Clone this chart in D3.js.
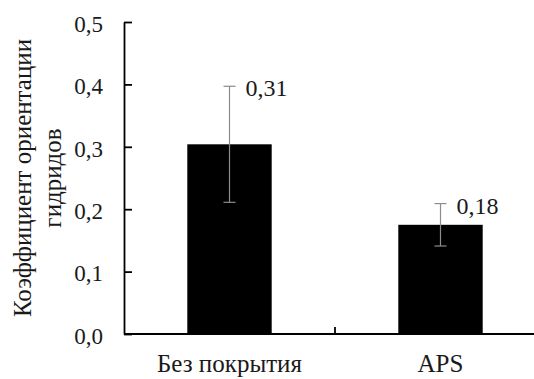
<!DOCTYPE html>
<html>
<head>
<meta charset="UTF-8" />
<title>Коэффициент ориентации гидридов</title>
<style>
  body { margin: 0; background: #fff; }
  .axis path, .axis line { stroke: #000; stroke-width: 1.8px; }
  .err { stroke: #8c8c8c; stroke-width: 1.2px; }
</style>
<script src="https://d3js.org/d3.v7.min.js"></script>
</head>
<body>
<script>
var categories = ["Без покрытия", "APS"];
var values = [0.304, 0.175];
var errors = [0.093, 0.034];
var valueLabels = ["0,31", "0,18"];
var yTicks = [0, 0.1, 0.2, 0.3, 0.4, 0.5];

var width = 534, height = 379;
var margin = {top: 22, right: -12, bottom: 45, left: 124};
var serif = "'Liberation Serif', 'Times New Roman', serif";

var svg = d3.select("body").append("svg")
    .attr("width", width)
    .attr("height", height)
    .attr("font-family", serif);

var x = d3.scaleBand()
    .domain(categories)
    .range([margin.left, width - margin.right])
    .paddingInner(0.6)
    .paddingOuter(0.3);

var y = d3.scaleLinear()
    .domain([0, 0.5])
    .range([height - margin.bottom, margin.top]);

var fmt = function(d) { return d3.format(".1f")(d).replace(".", ","); };

// y axis, ticks pointing inwards
var yAxis = svg.append("g")
    .attr("class", "axis")
    .attr("transform", "translate(" + margin.left + ",0)")
    .call(d3.axisRight(y).tickValues(yTicks).tickSize(8).tickSizeOuter(0).tickFormat(fmt))
    .attr("font-family", serif);
yAxis.selectAll("text")
    .attr("x", -21)
    .attr("dy", "0.4em")
    .attr("text-anchor", "end")
    .attr("fill", "#1a1a1a")
    .style("font-family", serif)
    .style("font-size", "23px");

// x axis: only a divider tick between categories
var step = x.step();
var xAxisG = svg.append("g").attr("class", "axis");
xAxisG.append("line")
    .attr("x1", margin.left).attr("x2", width)
    .attr("y1", y(0)).attr("y2", y(0));
xAxisG.append("line")
    .attr("x1", margin.left + step).attr("x2", margin.left + step)
    .attr("y1", y(0)).attr("y2", y(0) - 7);

svg.selectAll(".xlab")
    .data(categories)
    .enter().append("text")
    .attr("class", "xlab")
    .attr("x", function(d) { return x(d) + x.bandwidth() / 2; })
    .attr("y", 372)
    .attr("text-anchor", "middle")
    .attr("fill", "#1a1a1a")
    .style("font-family", serif)
    .style("font-size", "25px")
    .text(function(d) { return d; });

// bars
svg.selectAll(".bar")
    .data(values)
    .enter().append("rect")
    .attr("class", "bar")
    .attr("x", function(d, i) { return x(categories[i]); })
    .attr("width", x.bandwidth())
    .attr("y", function(d) { return y(d); })
    .attr("height", function(d) { return y(0) - y(d); })
    .attr("fill", "#000");

// error bars
var cx = function(d, i) { return x(categories[i]) + x.bandwidth() / 2; };
var eb = svg.selectAll(".eb")
    .data(values)
    .enter().append("g")
    .attr("class", "eb");
eb.append("line").attr("class", "err")
    .attr("x1", cx).attr("x2", cx)
    .attr("y1", function(d, i) { return y(d + errors[i]); })
    .attr("y2", function(d, i) { return y(d - errors[i]); });
[1, -1].forEach(function(s) {
  eb.append("line").attr("class", "err")
    .attr("x1", function(d, i) { return cx(d, i) - 6; })
    .attr("x2", function(d, i) { return cx(d, i) + 6; })
    .attr("y1", function(d, i) { return y(d + s * errors[i]); })
    .attr("y2", function(d, i) { return y(d + s * errors[i]); });
});

// value labels
svg.selectAll(".vlab")
    .data(values)
    .enter().append("text")
    .attr("class", "vlab")
    .attr("x", function(d, i) { return cx(d, i) + 16; })
    .attr("y", function(d, i) { return y(d + errors[i]) + 10; })
    .attr("fill", "#1a1a1a")
    .style("font-family", serif)
    .style("font-size", "24px")
    .text(function(d, i) { return valueLabels[i]; });

// y title
var yt = svg.append("text")
    .attr("transform", "translate(0,178) rotate(-90)")
    .attr("text-anchor", "middle")
    .attr("fill", "#1a1a1a")
    .style("font-family", serif)
    .style("font-size", "25px");
yt.append("tspan").attr("x", 0).attr("y", 31).text("Коэффициент ориентации");
yt.append("tspan").attr("x", 0).attr("y", 61).text("гидридов");
</script>
</body>
</html>
